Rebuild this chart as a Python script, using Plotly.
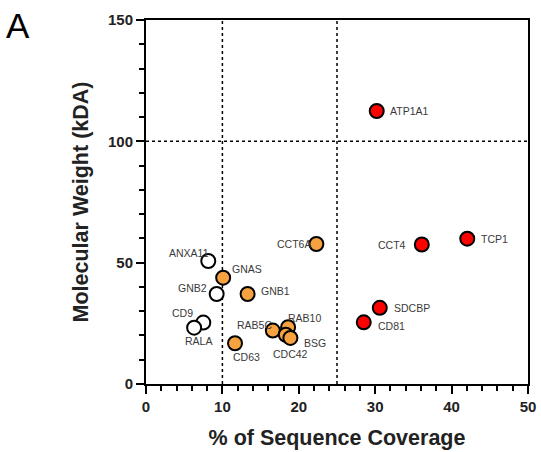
import plotly.graph_objects as go

# ---- data ----
white_names = ["ANXA11", "GNB2", "CD9", "RALA"]
white_x = [8.15, 9.25, 7.5, 6.3]
white_y = [50.7, 37.1, 25.3, 23.2]

orange_names = ["GNAS", "GNB1", "CD63", "RAB5C", "RAB10", "CDC42", "BSG", "CCT6A"]
orange_x = [10.1, 13.3, 11.65, 16.6, 18.6, 18.3, 18.9, 22.3]
orange_y = [43.8, 37.1, 16.8, 22.0, 23.4, 20.3, 19.0, 57.7]

red_names = ["ATP1A1", "CCT4", "TCP1", "SDCBP", "CD81"]
red_x = [30.2, 36.1, 42.05, 30.6, 28.5]
red_y = [112.5, 57.5, 59.9, 31.4, 25.4]

x_cut_lines = [10, 25]
y_cut_lines = [100]

# label placement (styling): xanchor, xshift, yshift
label_style = {
    "ANXA11": ("right", 3, 8), "GNB2": ("right", -8, 6), "CD9": ("right", -8, 10),
    "RALA": ("center", 4, -13), "GNAS": ("left", 7, 9), "GNB1": ("left", 11, 3),
    "CD63": ("center", 11, -14), "RAB5C": ("center", -18, 6), "RAB10": ("center", 16, 9),
    "CDC42": ("center", 5, -19), "BSG": ("left", 12, -5), "CCT6A": ("right", -3, 0),
    "ATP1A1": ("left", 11, 0), "CCT4": ("right", -14, -1), "TCP1": ("left", 12, 0),
    "SDCBP": ("left", 12, 0), "CD81": ("left", 12, -4),
}

FONT = "Liberation Sans, Arial, sans-serif"

fig = go.Figure()
for xs, ys, names, color in [
    (white_x, white_y, white_names, "white"),
    (orange_x, orange_y, orange_names, "#F7A240"),
    (red_x, red_y, red_names, "#FF0000"),
]:
    fig.add_trace(go.Scatter(
        x=xs, y=ys, mode="markers", text=names,
        marker=dict(size=14, color=color, line=dict(color="black", width=2)),
        showlegend=False, cliponaxis=False,
    ))
    for xv, yv, nm in zip(xs, ys, names):
        anc, dx, dy = label_style[nm]
        fig.add_annotation(x=xv, y=yv, text=nm, showarrow=False, xanchor=anc,
                           yanchor="middle", xshift=dx, yshift=dy,
                           font=dict(family=FONT, size=10.5, color="#3a3a3a"))

for xv in x_cut_lines:
    fig.add_shape(type="line", x0=xv, x1=xv, y0=0, y1=150, layer="below",
                  line=dict(color="black", width=1.5, dash="dot"))
for yv in y_cut_lines:
    fig.add_shape(type="line", x0=0, x1=50, y0=yv, y1=yv, layer="below",
                  line=dict(color="black", width=1.5, dash="dot"))

fig.add_annotation(text="A", xref="paper", yref="paper", x=-0.372, y=1.045,
                   xanchor="left", yanchor="top", showarrow=False,
                   font=dict(family=FONT, size=35, color="black"))

axis_common = dict(
    showgrid=False, zeroline=False, showline=True, linecolor="black", linewidth=2,
    mirror=True, ticks="outside", tickcolor="black", tickwidth=2, ticklen=8,
    tickfont=dict(family=FONT, size=15, color="#222", weight="bold"),
    automargin=False,
)

fig.update_xaxes(range=[0, 50], dtick=10, tick0=0,
                 minor=dict(dtick=2, ticks="outside", ticklen=5, tickwidth=2, tickcolor="black"),
                 title=dict(text="% of Sequence Coverage", standoff=16,
                            font=dict(family=FONT, size=21.5, color="#222", weight="bold")),
                 **axis_common)
fig.update_yaxes(range=[0, 150], dtick=50, tick0=0,
                 minor=dict(dtick=10, ticks="outside", ticklen=5, tickwidth=2, tickcolor="black"),
                 title=dict(text="Molecular Weight (kDA)", standoff=13,
                            font=dict(family=FONT, size=21.5, color="#222", weight="bold")),
                 **axis_common)

fig.update_layout(width=541, height=452, margin=dict(l=146, r=13, t=20, b=68),
                  plot_bgcolor="white", paper_bgcolor="white")

fig.write_html("out.html")
